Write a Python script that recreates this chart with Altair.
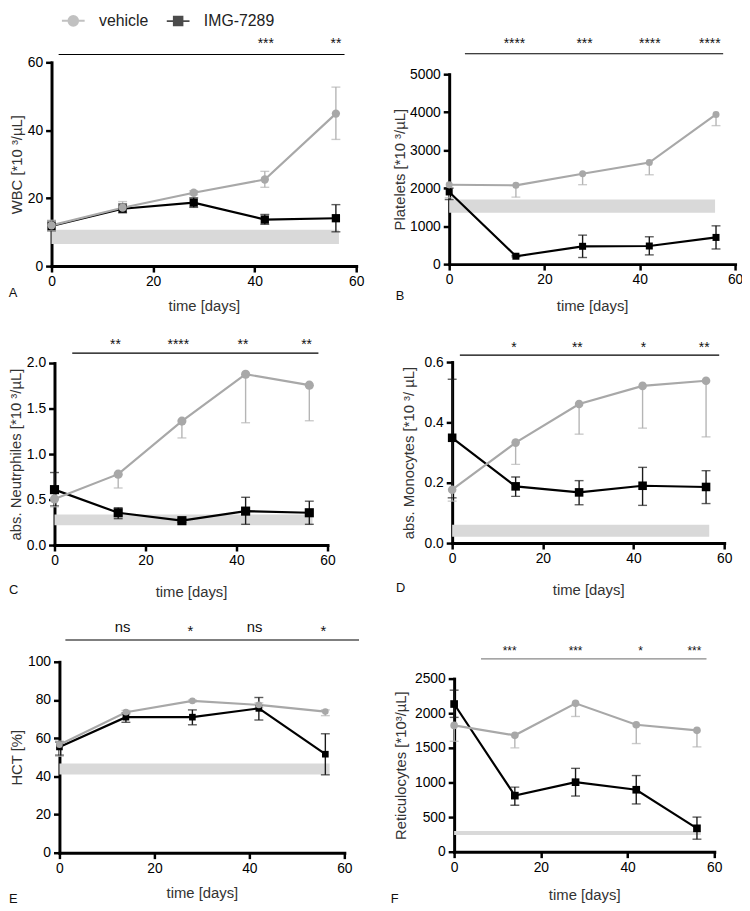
import altair as alt
import pandas as pd

FONT = "Liberation Sans"
W, H = 742, 902

DAYS = [0, 14, 28, 42, 56]
SERIES = ["vehicle", "IMG-7289"]
SERIES_COLORS = ["#a8a8a8", "#000000"]
ERR_COLORS = {"vehicle": "#b5b5b5", "IMG-7289": "#1a1a1a"}
X_TICKS = [0, 20, 40, 60]

# ---- Panel A: WBC ----
A_VEH = [12.0, 17.2, 21.6, 25.5, 44.9]
A_VEH_LO = [10.5, 16.0, 21.0, 23.2, 37.3]
A_VEH_HI = [13.5, 19.0, 22.2, 27.9, 52.7]
A_IMG = [11.8, 16.9, 18.7, 13.7, 14.1]
A_IMG_LO = [10.4, 15.7, 17.3, 12.3, 10.1]
A_IMG_HI = [13.3, 18.3, 20.1, 15.2, 18.1]
A_BAND = [6.5, 10.7, 56.6]
A_SIG_LINE = [1.4, 57.7, 62.3]
A_SIG_DAYS = [42.2, 56.0]
A_SIG_TEXT = ["***", "**"]
A_SIG_Y = [64.1, 64.1]
A_LETTER = [-8.4, -9.0]

# ---- Panel B: Platelets ----
B_VEH = [2090, 2075, 2378, 2674, 3940]
B_VEH_LO = [1745, 1763, 2091, 2352, 3646]
B_VEH_HI = [2090, 2075, 2378, 2674, 3940]
B_IMG = [1900, 208, 469, 477, 703]
B_IMG_LO = [1700, 190, 174, 243, 399]
B_IMG_HI = [2000, 230, 763, 720, 1008]
B_BAND = [1354, 1701, 55.8]
B_SIG_LINE = [3.3, 57.5, 5539]
B_SIG_DAYS = [13.7, 28.4, 42.1, 54.7]
B_SIG_TEXT = ["****", "***", "****", "****"]
B_SIG_Y = [5677, 5677, 5677, 5677]
B_LETTER = [-11.2, -937]

# ---- Panel C: Neutrophiles ----
C_VEH = [0.507, 0.779, 1.362, 1.877, 1.757]
C_VEH_LO = [0.42, 0.627, 1.177, 1.344, 1.366]
C_VEH_HI = [0.507, 0.779, 1.362, 1.877, 1.757]
C_IMG = [0.609, 0.355, 0.268, 0.373, 0.355]
C_IMG_LO = [0.43, 0.29, 0.25, 0.228, 0.228]
C_IMG_HI = [0.797, 0.41, 0.29, 0.525, 0.482]
C_BAND = [0.217, 0.337, 56.7]
C_SIG_LINE = [3.9, 58.0, 2.109]
C_SIG_DAYS = [13.4, 27.2, 41.4, 55.4]
C_SIG_TEXT = ["**", "****", "**", "**"]
C_SIG_Y = [2.152, 2.152, 2.152, 2.152]
C_LETTER = [-10.0, -0.533]

# ---- Panel D: Monocytes ----
D_VEH = [0.177, 0.333, 0.461, 0.521, 0.538]
D_VEH_LO = [0.139, 0.261, 0.361, 0.381, 0.352]
D_VEH_HI = [0.177, 0.333, 0.461, 0.521, 0.538]
D_IMG = [0.349, 0.188, 0.168, 0.190, 0.186]
D_IMG_LO = [0.15, 0.155, 0.127, 0.125, 0.131]
D_IMG_HI = [0.543, 0.219, 0.207, 0.251, 0.240]
D_BAND = [0.021, 0.061, 56.7]
D_SIG_LINE = [1.7, 58.9, 0.623]
D_SIG_DAYS = [13.6, 27.6, 42.2, 55.6]
D_SIG_TEXT = ["*", "**", "*", "**"]
D_SIG_Y = [0.633, 0.633, 0.633, 0.633]
D_LETTER = [-12.4, -0.161]

# ---- Panel E: HCT ----
E_VEH = [56.6, 73.6, 79.5, 77.4, 73.9]
E_VEH_LO = [50.5, 72.5, 79.0, 76.0, 71.8]
E_VEH_HI = [58.5, 74.5, 80.0, 78.5, 74.8]
E_IMG = [55.4, 71.0, 71.0, 75.6, 51.6]
E_IMG_LO = [51.1, 68.3, 67.0, 69.5, 40.8]
E_IMG_HI = [58.0, 73.2, 74.8, 81.3, 62.3]
E_BAND = [41.0, 46.7, 56.9]
E_SIG_LINE = [1.25, 63.1, 111.4]
E_SIG_DAYS = [13.3, 27.6, 41.1, 55.6]
E_SIG_TEXT = ["ns", "*", "ns", "*"]
E_SIG_Y = [115.5, 113.5, 115.5, 113.5]
E_LETTER = [-10.6, -26.4]

# ---- Panel F: Reticulocytes ----
F_VEH = [1824, 1681, 2143, 1833, 1753]
F_VEH_LO = [1595, 1500, 1953, 1562, 1514]
F_VEH_HI = [1824, 1681, 2143, 1833, 1753]
F_IMG = [2133, 810, 1004, 895, 338]
F_IMG_LO = [1940, 671, 804, 690, 181]
F_IMG_HI = [2333, 933, 1204, 1100, 500]
F_BAND = [243, 300, 56.9]
F_SIG_LINE = [6.2, 58.2, 2786]
F_SIG_DAYS = [12.8, 28.0, 43.0, 55.4]
F_SIG_TEXT = ["***", "***", "*", "***"]
F_SIG_Y = [2844, 2844, 2844, 2844]
F_LETTER = [-14.6, -743]

Y_TITLES = {
    "A": "WBC [*10 ³/µL]",
    "B": "Platelets [*10 ³/µL]",
    "C": "abs. Neutrphiles [*10 ³/µL]",
    "D": "abs. Monocytes [*10 ³/ µL]",
    "E": "HCT [%]",
    "F": "Reticulocytes [*10³/µL]",
}
Y_MAX = {"A": 60, "B": 5000, "C": 2.0, "D": 0.6, "E": 100, "F": 2500}
Y_TICKS = {
    "A": [0, 20, 40, 60],
    "B": [0, 1000, 2000, 3000, 4000, 5000],
    "C": [0, 0.5, 1.0, 1.5, 2.0],
    "D": [0, 0.2, 0.4, 0.6],
    "E": [0, 20, 40, 60, 80, 100],
    "F": [0, 500, 1000, 1500, 2000, 2500],
}
Y_FORMAT = {"A": "d", "B": "d", "C": ".1f", "D": ".1f", "E": "d", "F": "d"}

DATA = {
    "A": (A_VEH, A_VEH_LO, A_VEH_HI, A_IMG, A_IMG_LO, A_IMG_HI, A_BAND, A_SIG_LINE, A_SIG_DAYS, A_SIG_TEXT, A_SIG_Y, A_LETTER),
    "B": (B_VEH, B_VEH_LO, B_VEH_HI, B_IMG, B_IMG_LO, B_IMG_HI, B_BAND, B_SIG_LINE, B_SIG_DAYS, B_SIG_TEXT, B_SIG_Y, B_LETTER),
    "C": (C_VEH, C_VEH_LO, C_VEH_HI, C_IMG, C_IMG_LO, C_IMG_HI, C_BAND, C_SIG_LINE, C_SIG_DAYS, C_SIG_TEXT, C_SIG_Y, C_LETTER),
    "D": (D_VEH, D_VEH_LO, D_VEH_HI, D_IMG, D_IMG_LO, D_IMG_HI, D_BAND, D_SIG_LINE, D_SIG_DAYS, D_SIG_TEXT, D_SIG_Y, D_LETTER),
    "E": (E_VEH, E_VEH_LO, E_VEH_HI, E_IMG, E_IMG_LO, E_IMG_HI, E_BAND, E_SIG_LINE, E_SIG_DAYS, E_SIG_TEXT, E_SIG_Y, E_LETTER),
    "F": (F_VEH, F_VEH_LO, F_VEH_HI, F_IMG, F_IMG_LO, F_IMG_HI, F_BAND, F_SIG_LINE, F_SIG_DAYS, F_SIG_TEXT, F_SIG_Y, F_LETTER),
}

# layout / style per panel (pixel ranges inside the plot area)
STYLE = {
    "A": dict(xr=[44, 352], yr=[256, 50], xtp=10, ytp=3, ms=70, sfs=14, sig="#000"),
    "B": dict(xr=[446, 735], yr=[254, 62], xtp=12, ytp=2, ms=50, sfs=14, sig="#000"),
    "C": dict(xr=[47, 323], yr=[538, 354], xtp=17, ytp=3, ms=85, sfs=14, sig="#000"),
    "D": dict(xr=[449, 724], yr=[536, 353], xtp=17, ytp=8, ms=75, sfs=14, sig="#000"),
    "E": dict(xr=[52, 340], yr=[849, 656], xtp=10, ytp=3, ms=45, sfs=15, sig="#000"),
    "F": dict(xr=[451, 714], yr=[848, 673], xtp=13, ytp=6, ms=60, sfs=12, sig="#888"),
}

CIRCLE_PATH = "M-2,0L2,0M0.85,0A0.85,0.85,0,1,1,-0.85,0A0.85,0.85,0,1,1,0.85,0Z"
SQUARE_PATH = "M-2,0L2,0M-0.75,-0.75L0.75,-0.75L0.75,0.75L-0.75,0.75Z"

LEGEND = alt.Legend(
    orient="none", legendX=58, legendY=0, direction="horizontal", title=None,
    labelFont=FONT, labelFontSize=16, labelColor="#222", symbolSize=132,
    symbolStrokeWidth=2, labelOffset=18, columnPadding=14, padding=0,
)
COLOR_SCALE = alt.Scale(domain=SERIES, range=SERIES_COLORS)


def build_panel(key):
    veh, veh_lo, veh_hi, img, img_lo, img_hi, band, sigl, sdays, stext, sy, letter = DATA[key]
    s = STYLE[key]
    xs = alt.Scale(domain=[0, 60], range=s["xr"], nice=False, zero=False)
    ys = alt.Scale(domain=[0, Y_MAX[key]], range=s["yr"], nice=False, zero=False)
    xax = alt.Axis(orient="bottom", offset=s["yr"][0] - H, values=X_TICKS, format="d",
                   title="time [days]", titlePadding=s["xtp"], grid=False, labelFlush=False)
    yax = alt.Axis(orient="left", offset=-s["xr"][0], values=Y_TICKS[key], format=Y_FORMAT[key],
                   title=Y_TITLES[key], titlePadding=s["ytp"], grid=False, labelFlush=False)

    def X(f):
        return alt.X(f, type="quantitative", scale=xs, axis=xax)

    def Y(f):
        return alt.Y(f, type="quantitative", scale=ys, axis=yax)

    rows = []
    for name, m, lo, hi in [("IMG-7289", img, img_lo, img_hi), ("vehicle", veh, veh_lo, veh_hi)]:
        for d, mv, l, h in zip(DAYS, m, lo, hi):
            rows.append(dict(series=name, day=d, mean=mv, lo=l, hi=h, ec=ERR_COLORS[name]))
    df = pd.DataFrame(rows)
    hi_caps = df[df["hi"] > df["mean"]]
    lo_caps = df[df["lo"] < df["mean"]]

    color = alt.Color("series:N", scale=COLOR_SCALE, legend=LEGEND)

    band_df = pd.DataFrame([dict(bx0=0, bx1=band[2], blo=band[0], bhi=band[1])])
    sig_df = pd.DataFrame([dict(sx1=sigl[0], sx2=sigl[1], sy=sigl[2])])
    lab_df = pd.DataFrame(dict(ld=sdays, lt=stext, ly=sy))
    let_df = pd.DataFrame([dict(gx=letter[0], gy=letter[1], gt=key)])

    band_l = alt.Chart(band_df).mark_rect(color="#d9d9d9").encode(
        x=X("bx0"), x2=alt.X2("bx1"), y=Y("blo"), y2=alt.Y2("bhi"))
    err = alt.Chart(df).mark_rule(strokeWidth=1.4).encode(
        x=X("day"), y=Y("lo"), y2=alt.Y2("hi"), color=alt.Color("ec:N", scale=None))
    cap_hi = alt.Chart(hi_caps).mark_tick(orient="horizontal", size=9, thickness=1.4).encode(
        x=X("day"), y=Y("hi"), color=alt.Color("ec:N", scale=None))
    cap_lo = alt.Chart(lo_caps).mark_tick(orient="horizontal", size=9, thickness=1.4).encode(
        x=X("day"), y=Y("lo"), color=alt.Color("ec:N", scale=None))
    line = alt.Chart(df).mark_line(strokeWidth=2.2).encode(
        x=X("day"), y=Y("mean"), color=color)
    sq = alt.Chart(df[df["series"] == "IMG-7289"]).mark_point(
        filled=True, opacity=1, size=s["ms"], shape="square").encode(
        x=X("day"), y=Y("mean"), color=color)
    ci = alt.Chart(df[df["series"] == "vehicle"]).mark_point(
        filled=True, opacity=1, size=s["ms"], shape="circle").encode(
        x=X("day"), y=Y("mean"), color=color)
    sig = alt.Chart(sig_df).mark_rule(strokeWidth=1.2, color=s["sig"]).encode(
        x=X("sx1"), x2=alt.X2("sx2"), y=Y("sy"))
    labs = alt.Chart(lab_df).mark_text(font=FONT, fontSize=s["sfs"], align="center",
                                       baseline="alphabetic", color="#111").encode(
        x=X("ld"), y=Y("ly"), text="lt:N")
    let = alt.Chart(let_df).mark_text(font=FONT, fontSize=13, align="left",
                                      baseline="alphabetic", color="#111").encode(
        x=X("gx"), y=Y("gy"), text="gt:N")
    layers = [band_l, err, cap_hi, cap_lo, line, sq, ci, sig, labs, let]
    if key == "A":
        leg = alt.Chart(df).transform_filter("false").mark_point(
            filled=True, opacity=1, size=132, strokeWidth=2).encode(
            x=X("day"), y=Y("mean"),
            color=alt.Color("series:N", scale=COLOR_SCALE, legend=LEGEND),
            stroke=alt.Stroke("series:N", scale=COLOR_SCALE, legend=LEGEND),
            shape=alt.Shape("series:N", scale=alt.Scale(domain=SERIES, range=[CIRCLE_PATH, SQUARE_PATH]),
                            legend=LEGEND),
        )
        layers.append(leg)
    return alt.layer(*layers)


chart = alt.layer(*[build_panel(k) for k in ["A", "B", "C", "D", "E", "F"]]).resolve_scale(
    x="independent", y="independent"
).resolve_axis(x="independent", y="independent").properties(
    width=W, height=H, autosize=alt.AutoSizeParams(type="none"), padding=0
).configure_view(stroke=None).configure_axis(
    domainWidth=3, domainColor="black", domainCap="square", tickWidth=2.5, tickColor="black",
    tickSize=6, labelFont=FONT, labelFontSize=14, labelColor="black", labelPadding=3,
    titleFont=FONT, titleFontSize=15, titleFontWeight="normal", titleColor="#333"
)

chart.save("out.html", embed_options={"renderer": "svg", "actions": False})
